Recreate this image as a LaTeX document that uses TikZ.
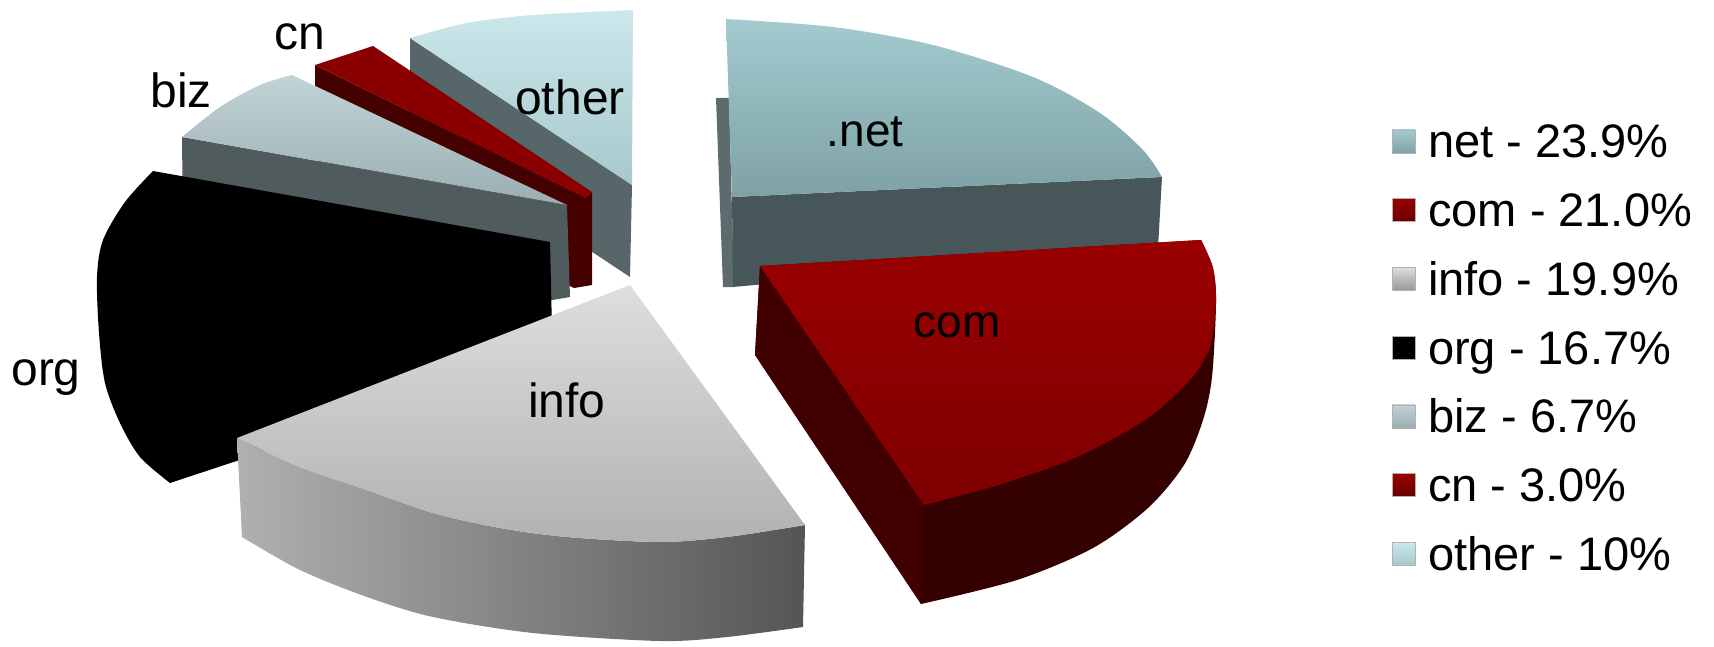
\documentclass[tikz,border=0pt]{standalone}
\usepackage{fontspec}
\setmainfont{Liberation Sans}
\definecolor{nettopA}{HTML}{A3CBD0}
\definecolor{nettopB}{HTML}{7EA1A4}
\definecolor{netside}{HTML}{465659}
\definecolor{netstrip}{HTML}{5C6C6E}
\definecolor{comtopA}{HTML}{9A0000}
\definecolor{comtopB}{HTML}{7E0000}
\definecolor{comside}{HTML}{340000}
\definecolor{comleft}{HTML}{400000}
\definecolor{infotopA}{HTML}{DEDEDE}
\definecolor{infotopB}{HTML}{B2B2B2}
\definecolor{infosideL}{HTML}{B0B0B0}
\definecolor{infosideR}{HTML}{555555}
\definecolor{biztopA}{HTML}{C2D3D6}
\definecolor{biztopB}{HTML}{9AAEB1}
\definecolor{bizside}{HTML}{4F5B5D}
\definecolor{cntop}{HTML}{8A0000}
\definecolor{cnside}{HTML}{450000}
\definecolor{othtopA}{HTML}{CBE8EB}
\definecolor{othtopB}{HTML}{A6C8CC}
\definecolor{othside}{HTML}{576668}
\begin{document}
\begin{tikzpicture}[x=1pt,y=-1pt,
  lbl/.style={font=\fontsize{48}{56}\selectfont, anchor=base, inner sep=0pt},
  lblw/.style={font=\fontsize{46}{54}\selectfont, anchor=base, inner sep=0pt},
  legtxt/.style={font=\fontsize{47}{56}\selectfont, anchor=base west, inner sep=0pt},
  legbox/.style={minimum width=23pt, minimum height=23pt, inner sep=0pt, draw=black!30, line width=0.6pt}]
\path[use as bounding box] (0,0) rectangle (1714,647);
% ---------- other ----------
\fill[othside] (410,38) -- (632,185) -- (630,277) -- (410,131) -- cycle;
\shade[top color=othtopA, bottom color=othtopB] plot[smooth] coordinates {(410,38) (467,23) (533,15) (633,10)} -- (632,185) -- cycle;
% ---------- cn ----------
\fill[cnside] (315,65) -- (586,198) -- (592,192) -- (592,285) -- (574,288) -- (315,160) -- cycle;
\fill[cntop] (315,65) -- (373,46) -- (592,192) -- (586,198) -- cycle;
% ---------- biz ----------
\fill[bizside] (182,137) -- (567,205) -- (570,297) -- (552,300) -- (183,230) -- cycle;
\shade[top color=biztopA, bottom color=biztopB] plot[smooth] coordinates {(182,137) (220,107) (260,85) (292,75)} -- (567,205) -- cycle;
% ---------- org ----------
\fill[black] (153,171) -- (550,242) -- (552,330) -- (300,440) -- plot[smooth] coordinates {(170,483) (140,457) (120,423) (105,383) (99,333) (97,277) (103,240) (125,202) (153,171)} -- cycle;
% ---------- info ----------
\shade[left color=infosideL, right color=infosideR] plot[smooth] coordinates {(237,438) (300,467) (367,490) (433,513) (500,528) (567,537) (660,542) (727,537) (805,525)} -- (803,627) -- plot[smooth] coordinates {(803,627) (727,637) (660,641) (533,633) (433,617) (367,597) (300,570) (242,537)} -- cycle;
\shade[top color=infotopA, bottom color=infotopB] (630,285) -- plot[smooth] coordinates {(237,438) (300,467) (367,490) (433,513) (500,528) (567,537) (660,542) (727,537) (805,525)} -- cycle;
% ---------- net ----------
\fill[netstrip] (716,98) -- (729,98) -- (734,287) -- (723,287) -- cycle;
\fill[netside] (732,197) -- (1162,177) -- (1158,248) -- (733,287) -- cycle;
\shade[top color=nettopA, bottom color=nettopB] plot[smooth] coordinates {(726,19) (833,27) (933,45) (1033,77) (1100,113) (1143,150) (1162,177)} -- (732,197) -- cycle;
% ---------- com ----------
\fill[comside] (760,266) -- plot[smooth] coordinates {(1201,240) (1213,268) (1216,303) (1212,377) (1203,420) (1184,465) (1148,508) (1093,548) (1017,580) (921,604)} -- (755,355) -- cycle;
\fill[comleft] (760,266) -- (924,505) -- (921,604) -- (755,355) -- cycle;
\shade[top color=comtopA, bottom color=comtopB] (760,266) -- plot[smooth] coordinates {(1201,240) (1213,268) (1216,303) (1210,347) (1190,380) (1145,420) (1075,458) (995,486) (924,505)} -- cycle;
% ---------- slice labels ----------
\node[lblw] (lnet) at (865,147) {.net};
\node[lblw] (lcom) at (957,337) {com};
\node[lbl] (linfo) at (567,417) {info};
\node[lbl] (lorg) at (46,385) {org};
\node[lbl] (lbiz) at (181,108) {biz};
\node[lbl] (lcn) at (300,50) {cn};
\node[lbl] (lother) at (570,115) {other};
% ---------- legend ----------
\node[legbox, top color=nettopA, bottom color=nettopB] (bnet) at (1403.5,141.5) {};
\node[legbox, top color=comtopA, bottom color=comtopB!85!black] (bcom) at (1403.5,210.2) {};
\node[legbox, top color=infotopA, bottom color=infotopB!85!black] (binfo) at (1403.5,278.9) {};
\node[legbox, fill=black] (borg) at (1403.5,347.6) {};
\node[legbox, top color=biztopA, bottom color=biztopB] (bbiz) at (1403.5,416.3) {};
\node[legbox, top color=comtopA, bottom color=comtopB!85!black] (bcn) at (1403.5,485) {};
\node[legbox, top color=othtopA, bottom color=othtopB] (bother) at (1403.5,553.7) {};
\node[legtxt] (tnet) at (1428,158) {net - 23.9\%};
\node[legtxt] (tcom) at (1428,226.7) {com - 21.0\%};
\node[legtxt] (tinfo) at (1428,295.4) {info - 19.9\%};
\node[legtxt] (torg) at (1428,364.1) {org - 16.7\%};
\node[legtxt] (tbiz) at (1428,432.8) {biz - 6.7\%};
\node[legtxt] (tcn) at (1428,501.5) {cn - 3.0\%};
\node[legtxt] (tother) at (1428,570.2) {other - 10\%};
\end{tikzpicture}
\end{document}
